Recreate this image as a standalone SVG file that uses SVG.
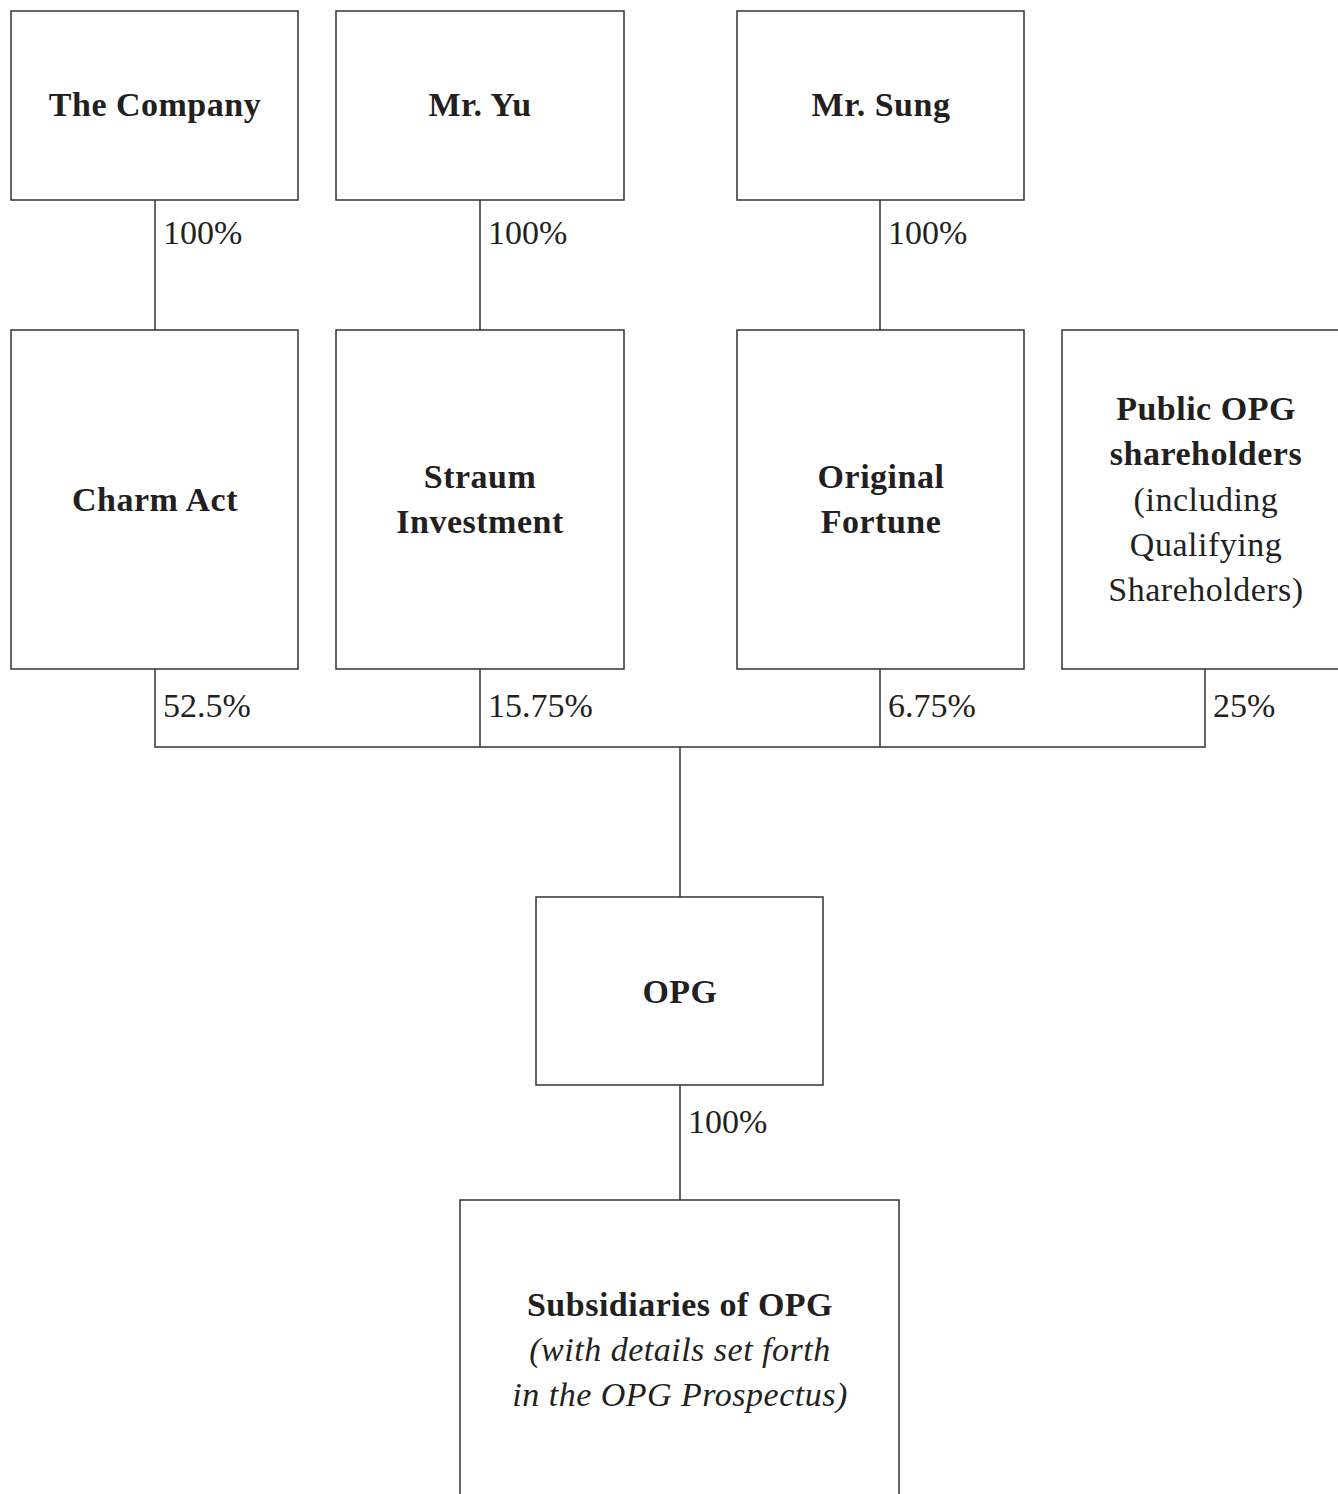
<svg xmlns="http://www.w3.org/2000/svg" width="1338" height="1494" viewBox="0 0 1338 1494">
<style>
.box{fill:#fff;stroke:#333;stroke-width:1.5}
.ln{stroke:#333;stroke-width:1.5;fill:none}
text{font-family:"Liberation Serif","Times New Roman",serif;font-size:34px;fill:#231f20}
.b{font-weight:bold;letter-spacing:0.5px;text-anchor:middle}
.r{letter-spacing:0.5px;text-anchor:middle}
.i{font-style:italic;letter-spacing:0.5px;text-anchor:middle}
</style>
<rect width="1338" height="1494" fill="#fff"/>
<g id="connectors">
<line class="ln" x1="155" y1="200" x2="155" y2="330"/>
<line class="ln" x1="480" y1="200" x2="480" y2="330"/>
<line class="ln" x1="880" y1="200" x2="880" y2="330"/>
<polyline class="ln" points="155,669 155,747 1205,747 1205,669"/>
<line class="ln" x1="480" y1="669" x2="480" y2="747"/>
<line class="ln" x1="880" y1="669" x2="880" y2="747"/>
<line class="ln" x1="680" y1="747" x2="680" y2="897"/>
<line class="ln" x1="680" y1="1085" x2="680" y2="1200"/>
<text x="163" y="244">100%</text>
<text x="488" y="244">100%</text>
<text x="888" y="244">100%</text>
<text x="163" y="717">52.5%</text>
<text x="488" y="717">15.75%</text>
<text x="888" y="717">6.75%</text>
<text x="1213" y="717">25%</text>
<text x="688" y="1133">100%</text>
</g>
<g id="company"><rect class="box" x="11" y="11" width="287" height="189"/><text class="b" x="155" y="116">The Company</text></g>
<g id="mryu"><rect class="box" x="336" y="11" width="288" height="189"/><text class="b" x="480" y="116">Mr. Yu</text></g>
<g id="mrsung"><rect class="box" x="737" y="11" width="287" height="189"/><text class="b" x="881" y="116">Mr. Sung</text></g>
<g id="charmact"><rect class="box" x="11" y="330" width="287" height="339"/><text class="b" x="155" y="511">Charm Act</text></g>
<g id="straum"><rect class="box" x="336" y="330" width="288" height="339"/><text class="b" x="480" y="488">Straum</text><text class="b" x="480" y="533">Investment</text></g>
<g id="original"><rect class="box" x="737" y="330" width="287" height="339"/><text class="b" x="881" y="488">Original</text><text class="b" x="881" y="533">Fortune</text></g>
<g id="public"><rect class="box" x="1062" y="330" width="290" height="339"/><text class="b" x="1206" y="420">Public OPG</text><text class="b" x="1206" y="465">shareholders</text><text class="r" x="1206" y="511">(including</text><text class="r" x="1206" y="556">Qualifying</text><text class="r" x="1206" y="601">Shareholders)</text></g>
<g id="opg"><rect class="box" x="536" y="897" width="287" height="188"/><text class="b" x="680" y="1003">OPG</text></g>
<g id="subs"><rect class="box" x="460" y="1200" width="439" height="310"/><text class="b" x="680" y="1316">Subsidiaries of OPG</text><text class="i" x="680" y="1361">(with details set forth</text><text class="i" x="680" y="1406">in the OPG Prospectus)</text></g>
</svg>
